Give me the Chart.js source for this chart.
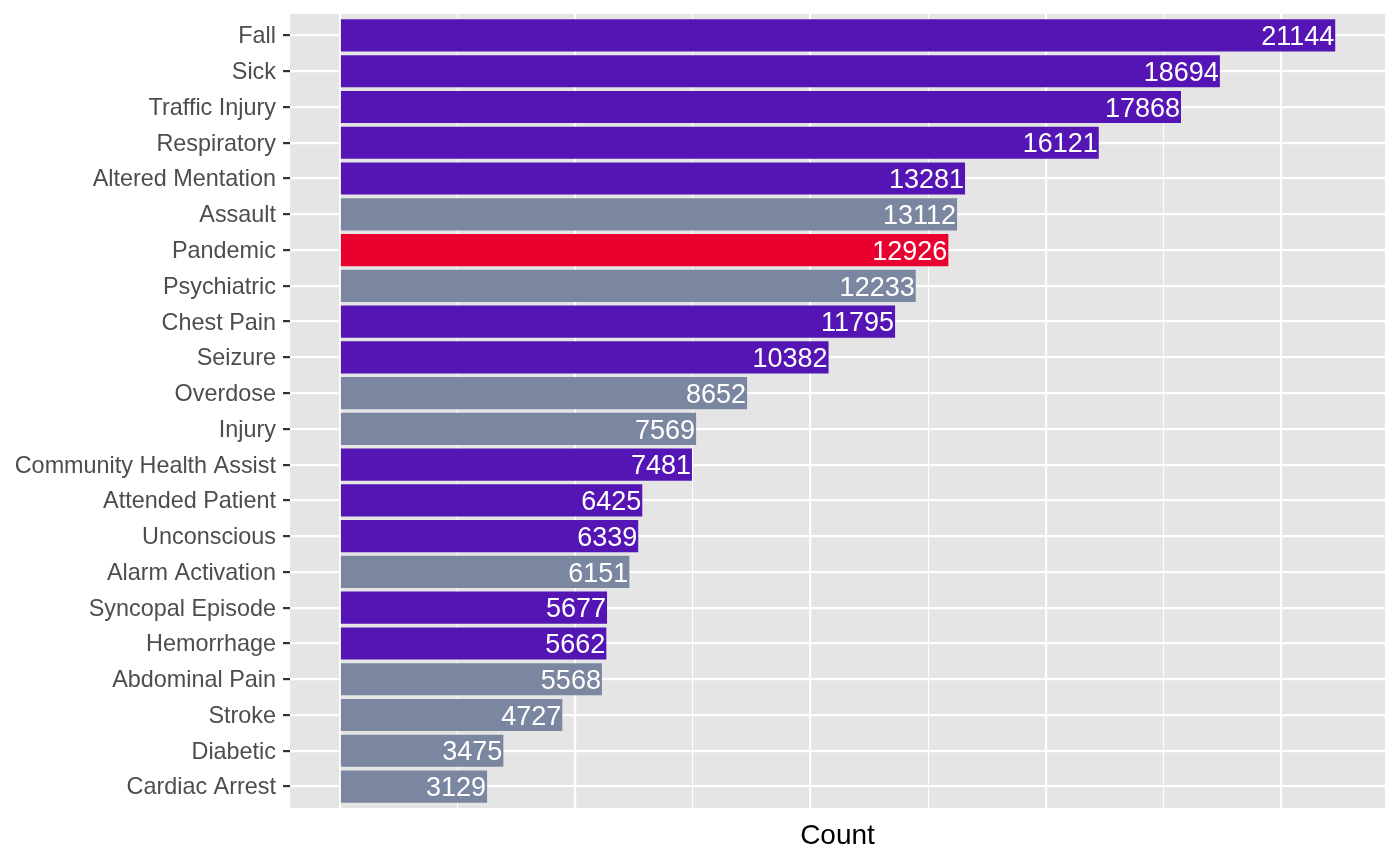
<!DOCTYPE html>
<html>
<head>
<meta charset="utf-8">
<script src="https://cdn.jsdelivr.net/npm/chart.js@4/dist/chart.umd.min.js"></script>
<style>
  html, body { margin: 0; padding: 0; background: #ffffff; }
  #wrap { width: 1400px; height: 865px; }
</style>
</head>
<body>
<div id="wrap"><canvas id="chart"></canvas></div>
<script>
// call types, top to bottom
const categories = [
  "Fall", "Sick", "Traffic Injury", "Respiratory", "Altered Mentation",
  "Assault", "Pandemic", "Psychiatric", "Chest Pain", "Seizure",
  "Overdose", "Injury", "Community Health Assist", "Attended Patient",
  "Unconscious", "Alarm Activation", "Syncopal Episode", "Hemorrhage",
  "Abdominal Pain", "Stroke", "Diabetic", "Cardiac Arrest"
];
const counts = [
  21144, 18694, 17868, 16121, 13281,
  13112, 12926, 12233, 11795, 10382,
  8652, 7569, 7481, 6425,
  6339, 6151, 5677, 5662,
  5568, 4727, 3475, 3129
];
const groups = [
  "top", "top", "top", "top", "top",
  "other", "pandemic", "other", "top", "top",
  "other", "other", "top", "top",
  "top", "other", "top", "top",
  "other", "other", "other", "other"
];
const gridTicks = [0, 2500, 5000, 7500, 10000, 12500, 15000, 17500, 20000];

const groupColors = { top: "#5514B4", other: "#7B86A0", pandemic: "#EA002F" };
const maxCount = Math.max(...counts);
const pad = maxCount * 0.05;

const panelBg = {
  id: "panelBg",
  beforeDraw(chart) {
    const a = chart.chartArea;
    const ctx = chart.ctx;
    ctx.save();
    ctx.fillStyle = "#E5E5E5";
    ctx.fillRect(a.left, a.top, a.right - a.left, a.bottom - a.top);
    ctx.restore();
  }
};

const barLabels = {
  id: "barLabels",
  afterDatasetsDraw(chart) {
    const ctx = chart.ctx;
    const meta = chart.getDatasetMeta(0);
    ctx.save();
    ctx.fillStyle = "#ffffff";
    ctx.font = "27px 'Liberation Sans', Arial, sans-serif";
    ctx.textAlign = "right";
    ctx.textBaseline = "alphabetic";
    meta.data.forEach((bar, i) => {
      ctx.fillText(String(counts[i]), bar.x - 1, bar.y + 9.7);
    });
    ctx.restore();
  }
};

new Chart(document.getElementById("chart"), {
  type: "bar",
  data: {
    datasets: [{
      data: counts.map((v, i) => ({ x: v, y: i })),
      backgroundColor: groups.map(g => groupColors[g]),
      borderWidth: 0,
      categoryPercentage: 0.9,
      barPercentage: 1.0
    }]
  },
  options: {
    indexAxis: "y",
    responsive: true,
    maintainAspectRatio: false,
    animation: false,
    layout: { padding: { top: 14, right: 15, left: 0, bottom: 0 } },
    plugins: {
      legend: { display: false },
      tooltip: { enabled: false }
    },
    scales: {
      x: {
        type: "linear",
        min: -pad,
        max: maxCount + pad,
        afterBuildTicks: scale => { scale.ticks = gridTicks.map(v => ({ value: v })); },
        afterFit: scale => {
          scale.height = 57;
          scale.paddingLeft = 0;
          scale.paddingRight = 0;
        },
        ticks: { display: false },
        border: { display: false },
        grid: {
          color: "#ffffff",
          drawTicks: false,
          lineWidth: ctx => (ctx.tick && ctx.tick.value % 5000 === 0 ? 2.2 : 1.1)
        },
        title: {
          display: true,
          text: "Count",
          color: "#000000",
          font: { family: "'Liberation Sans', Arial, sans-serif", size: 28 },
          padding: { top: 0, bottom: 12 }
        }
      },
      y: {
        type: "linear",
        reverse: true,
        offset: false,
        min: -0.6,
        max: categories.length - 1 + 0.6,
        afterBuildTicks: scale => { scale.ticks = categories.map((c, i) => ({ value: i })); },
        afterFit: scale => {
          scale.width = 290;
          scale.paddingTop = 0;
          scale.paddingBottom = 0;
        },
        border: { display: false },
        grid: {
          offset: false,
          color: "#ffffff",
          lineWidth: 2.2,
          drawTicks: true,
          tickLength: 7,
          tickColor: "#333333",
          tickWidth: 2.2
        },
        ticks: {
          autoSkip: false,
          padding: 7,
          labelOffset: 1.5,
          color: "#4D4D4D",
          font: { family: "'Liberation Sans', Arial, sans-serif", size: 23.4 },
          callback: v => categories[v]
        }
      }
    }
  },
  plugins: [panelBg, barLabels]
});
</script>
</body>
</html>
